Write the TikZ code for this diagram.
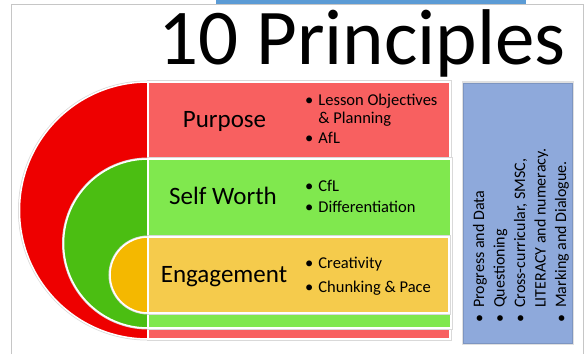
\documentclass[tikz,border=0pt]{standalone}
\usepackage{fontspec}
\setmainfont{Carlito}
\usepackage{tikz}
\definecolor{redarc}{RGB}{238,0,0}
\definecolor{redbox}{RGB}{248,96,96}
\definecolor{greenarc}{RGB}{75,190,18}
\definecolor{greenbox}{RGB}{128,232,78}
\definecolor{yellowarc}{RGB}{244,184,0}
\definecolor{yellowbox}{RGB}{245,203,76}
\definecolor{bluebox}{RGB}{142,169,219}
\definecolor{bluebar}{RGB}{91,155,213}

\begin{document}
\begin{tikzpicture}[x=1pt,y=1pt,
  band/.style={draw=white, line width=1.5pt, preaction={draw=black!15, line width=3pt}},
  heading/.style={inner sep=0pt, anchor=base, font=\fontsize{25}{30}\selectfont},
  bullets/.style={inner sep=0pt, anchor=base west, font=\fontsize{16.5}{18}\selectfont}]
\useasboundingbox (0,0) rectangle (587,354);
\draw [gray!45] (11,0) -- (11,349.5) -- (583,349.5) -- (583,0);
\fill [bluebar] (216,349.5) rectangle (526,354);
\node (title) [anchor=base, inner sep=0pt, font=\fontsize{79}{90}\selectfont] at (362,289) {10 Principles};
% nested half discs and bands
\draw [band, fill=redarc] (148,272) arc [start angle=90, end angle=270, radius=128.5] -- cycle;
\draw [band, fill=redbox] (148,15) rectangle (450,272);
\draw [band, fill=greenarc] (148,195) arc [start angle=90, end angle=270, radius=84.5] -- cycle;
\draw [band, fill=greenbox] (148,26) rectangle (451,195);
\draw [band, fill=yellowarc] (148,117) arc [start angle=90, end angle=270, radius=38] -- cycle;
\draw [band, fill=yellowbox] (148,41) rectangle (449,117);
\draw [fill=bluebox, draw=bluebox!88!black, line width=0.5pt, preaction={draw=black!12, line width=3pt}] (463,11) rectangle (572,271);
\node (purpose) [heading] at (224.5,226) {Purpose};
\node (selfworth) [heading] at (223,149) {Self Worth};
\node (engagement) [heading] at (224,72) {Engagement};
\node (purposelist) [bullets] at (305,248) {\begin{tabular}[t]{@{}l@{\hspace{5pt}}l@{}}\textbullet & Lesson Objectives\\ & \& Planning\\[2pt] \textbullet & AfL\end{tabular}};
\node (selfworthlist) [bullets] at (305,162) {\begin{tabular}[t]{@{}l@{\hspace{5pt}}l@{}}\textbullet & CfL\\[3pt] \textbullet & Differentiation\end{tabular}};
\node (engagementlist) [bullets] at (305,85) {\begin{tabular}[t]{@{}l@{\hspace{5pt}}l@{}}\textbullet & Creativity\\[5pt] \textbullet & Chunking \& Pace\end{tabular}};
\node (principles) [bullets, rotate=90, font=\fontsize{16}{20.5}\selectfont] at (484,31) {\begin{tabular}[t]{@{}l@{\hspace{7pt}}l@{}}\textbullet & Progress and Data\\ \textbullet & Questioning\\ \textbullet & Cross-curricular, SMSC,\\ & LITERACY and numeracy.\\ \textbullet & Marking and Dialogue.\end{tabular}};
\end{tikzpicture}
\end{document}
